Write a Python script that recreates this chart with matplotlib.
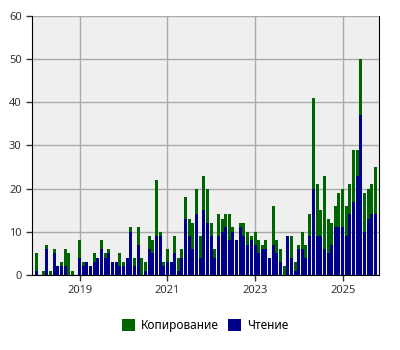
import datetime
import numpy as np
import matplotlib
matplotlib.use('Agg')
from matplotlib import pyplot as plt
import matplotlib.dates as mdates

plt.rcParams['font.family'] = ['Noto Sans', 'DejaVu Sans']
plt.rcParams['font.size'] = 8

# monthly totals (Копирование + Чтение) and Чтение part, Jan 2018 .. Oct 2025
totals = [5, 0, 1, 7, 1, 6, 2, 3, 6, 5, 1, 0,
          8, 3, 3, 2, 5, 4, 8, 5, 6, 3, 3, 5,
          3, 4, 11, 4, 11, 4, 3, 9, 8, 22, 10, 3,
          6, 3, 9, 4, 6, 18, 13, 12, 20, 9, 23, 20,
          12, 6, 14, 13, 14, 14, 11, 8, 12, 12, 10, 9,
          10, 8, 7, 8, 4, 16, 8, 6, 2, 9, 9, 3,
          7, 10, 7, 14, 41, 21, 15, 23, 13, 12, 16, 19,
          20, 16, 21, 29, 29, 50, 19, 20, 21, 25]
reading = [1, 0, 0, 6, 0, 5, 2, 2, 2, 0, 0, 0,
           4, 2, 3, 2, 3, 4, 6, 4, 5, 3, 3, 2,
           2, 4, 10, 2, 7, 0, 1, 6, 5, 9, 9, 2,
           3, 3, 5, 1, 4, 13, 9, 6, 14, 4, 15, 12,
           9, 4, 9, 10, 11, 8, 10, 8, 11, 9, 7, 8,
           7, 5, 6, 6, 4, 7, 5, 3, 0, 9, 4, 1,
           6, 6, 4, 9, 20, 9, 9, 6, 5, 7, 11, 11,
           11, 9, 14, 17, 23, 37, 10, 13, 14, 14]

months = [datetime.date(2018 + i // 12, i % 12 + 1, 1) for i in range(len(totals))]
copying = np.array(totals) - np.array(reading)

fig = plt.figure(figsize=(4, 3.5), dpi=100)
ax = fig.add_axes([0.08, 0.2143, 0.8675, 0.741])
ax.set_facecolor('#efefef')

ax.bar(months, reading, width=25, color='#00008b', label='Чтение', zorder=3)
ax.bar(months, copying, width=25, bottom=reading, color='#006400', label='Копирование', zorder=3)

ax.set_ylim(0, 60)
ax.set_yticks(range(0, 61, 10))
ax.set_xlim(datetime.date(2017, 11, 28), datetime.date(2025, 10, 31))
ax.set_xticks([datetime.date(y, 1, 1) for y in (2019, 2021, 2023, 2025)])
ax.xaxis.set_major_formatter(mdates.DateFormatter('%Y'))
ax.grid(True, color='#aaaaaa', linewidth=1, zorder=0)
ax.set_axisbelow(True)
ax.tick_params(colors='#333333', length=4, width=1)
ax.tick_params(axis='x', labelcolor='#333333')
for s in ('left', 'bottom', 'right'):
    ax.spines[s].set_color('black')
ax.spines['top'].set_visible(False)

h, l = ax.get_legend_handles_labels()
fig.legend(h[::-1], l[::-1], loc='center', bbox_to_anchor=(0.513, 0.07), ncol=2,
           frameon=False, handlelength=1.1, handleheight=1.1, handletextpad=0.5,
           columnspacing=0.8, fontsize=8.5)

fig.savefig('out.png', dpi=100)
